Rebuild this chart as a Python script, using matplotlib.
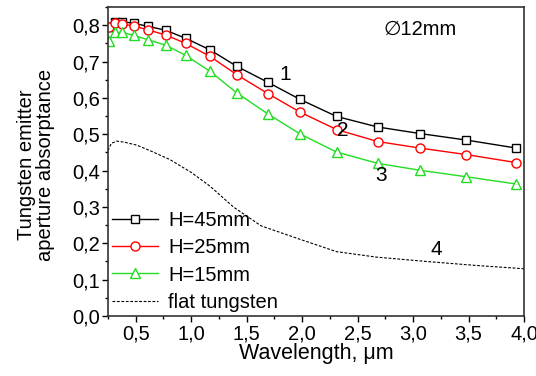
import matplotlib
matplotlib.use("Agg")
import matplotlib.pyplot as plt
from matplotlib.ticker import MultipleLocator, FuncFormatter

plt.rcParams['font.family'] = ['Liberation Sans', 'DejaVu Sans']

# wavelength points of the measured curves (um)
wl = [0.26, 0.31, 0.38, 0.48, 0.61, 0.77, 0.95, 1.17, 1.41, 1.69, 1.98, 2.31, 2.68, 3.06, 3.48, 3.93]
h45 = [0.795, 0.81, 0.81, 0.805, 0.797, 0.786, 0.764, 0.732, 0.687, 0.643, 0.596, 0.549, 0.520, 0.502, 0.484, 0.462]
h25 = [0.796, 0.805, 0.803, 0.798, 0.787, 0.773, 0.750, 0.714, 0.664, 0.612, 0.561, 0.513, 0.480, 0.462, 0.444, 0.422]
h15 = [0.757, 0.780, 0.780, 0.772, 0.760, 0.745, 0.717, 0.673, 0.614, 0.556, 0.501, 0.451, 0.420, 0.401, 0.383, 0.363]

# flat tungsten reference
wl_flat = [0.25, 0.28, 0.33, 0.40, 0.51, 0.65, 0.81, 1.00, 1.17, 1.38, 1.63, 1.99, 2.31, 2.67, 3.12, 3.57, 4.00]
flat = [0.455, 0.475, 0.481, 0.478, 0.470, 0.452, 0.430, 0.395, 0.357, 0.300, 0.248, 0.210, 0.177, 0.162, 0.150, 0.139, 0.130]

fig = plt.figure(figsize=(5.36, 3.76), dpi=100)
ax = fig.add_axes([108/536, 60/376, (524-108)/536, (316-7)/376])

ax.plot(wl, h45, color='black', lw=1, marker='s', ms=5.5, mfc='white', mec='black', mew=1, label='H=45mm')
ax.plot(wl, h25, color='red', lw=1, marker='o', ms=6.5, mfc='white', mec='red', mew=1, label='H=25mm')
ax.plot(wl, h15, color='#22dd22', lw=1, marker='^', ms=7, mfc='white', mec='#22dd22', mew=1, label='H=15mm')
ax.plot(wl_flat, flat, color='black', lw=0.8, ls=(0, (2.5, 1.5)), label='flat tungsten')

ax.set_xlim(0.25, 4.0)
ax.set_ylim(0.0, 0.85)

ax.xaxis.set_major_locator(MultipleLocator(0.5))
ax.xaxis.set_minor_locator(MultipleLocator(0.25))
ax.yaxis.set_major_locator(MultipleLocator(0.1))
ax.yaxis.set_minor_locator(MultipleLocator(0.05))
comma = FuncFormatter(lambda v, p: ('%.1f' % v).replace('.', ','))
ax.xaxis.set_major_formatter(comma)
ax.yaxis.set_major_formatter(comma)
ax.tick_params(which='major', direction='out', length=4, width=1, labelsize=14.5, pad=2)
ax.tick_params(which='minor', direction='out', length=2.5, width=1)
for s in ax.spines.values():
    s.set_linewidth(1.2)
    s.set_color('#333333')

ax.set_xlabel('Wavelength, \u03bcm', fontsize=15.5, labelpad=0)
ax.set_ylabel('Tungsten emitter\naperture absorptance', fontsize=14.5, linespacing=1.0)
ax.yaxis.set_label_coords(-0.128, 0.49)

ax.text(1.85, 0.665, '1', fontsize=15, ha='center', va='center')
ax.text(2.37, 0.51, '2', fontsize=15, ha='center', va='center')
ax.text(2.71, 0.386, '3', fontsize=15, ha='center', va='center')
ax.text(3.21, 0.182, '4', fontsize=15, ha='center', va='center')
ax.text(2.73, 0.789, '\u220512mm', fontsize=14.5, ha='left', va='center')

ax.legend(loc='lower left', bbox_to_anchor=(0.0, 0.0), frameon=False, fontsize=14.5,
          handlelength=2.3, handletextpad=0.5, labelspacing=0.42, borderaxespad=0.05, borderpad=0.15)

fig.savefig('out.png', dpi=100)
